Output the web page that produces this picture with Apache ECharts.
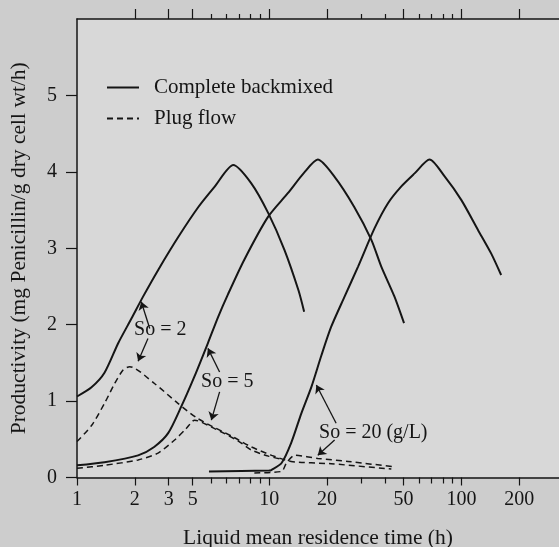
<!DOCTYPE html>
<html>
<head>
<meta charset="utf-8">
<script src="https://cdn.jsdelivr.net/npm/echarts@6/dist/echarts.min.js"></script>
<style>
html,body{margin:0;padding:0;background:#cdcdcd;}
#chart{width:559px;height:547px;}
</style>
</head>
<body>
<div id="chart"></div>
<script>
// curves, [residence time h, productivity]
var backmixedS2 = [[1,1.06],[1.19,1.18],[1.39,1.37],[1.64,1.76],[1.92,2.08],[2.21,2.37],[2.65,2.72],[3.37,3.15],[4.28,3.54],[5.18,3.80],[6.5,4.09],[8.07,3.85],[9.89,3.46],[12.0,2.98],[14.2,2.45],[15.2,2.17]];
var backmixedS5 = [[1,0.16],[1.39,0.20],[2.08,0.29],[2.52,0.40],[2.98,0.58],[3.49,0.93],[4.08,1.32],[4.8,1.76],[5.42,2.1],[6.11,2.4],[7.42,2.85],[9.86,3.41],[12.5,3.72],[15.2,3.99],[17.9,4.16],[21.8,3.94],[27.7,3.54],[34.0,3.11],[38.3,2.76],[44.8,2.37],[50.3,2.02]];
var backmixedS20 = [[4.86,0.08],[9.97,0.09],[10.3,0.10],[11.6,0.19],[13.0,0.45],[14.7,0.84],[16.6,1.19],[18.7,1.60],[21.0,1.97],[24.7,2.37],[29.0,2.76],[35.3,3.26],[41.5,3.59],[48.7,3.81],[57.1,3.98],[68.3,4.16],[81.8,3.94],[100,3.63],[122,3.24],[143,2.93],[161,2.65]];
var plugS2 = [[1,0.47],[1.19,0.68],[1.39,0.97],[1.57,1.23],[1.74,1.41],[1.88,1.45],[2.53,1.23],[3.35,0.97],[4.26,0.77],[6.61,0.52],[8.07,0.40],[10.3,0.29],[13.0,0.21],[21.0,0.18],[43.2,0.11]];
var plugS5 = [[1,0.12],[1.39,0.16],[2.08,0.23],[2.64,0.32],[3.22,0.49],[3.70,0.64],[4.09,0.75],[5.20,0.64],[6.88,0.48],[8.07,0.36],[9.9,0.28],[11.6,0.24]];
var plugS20 = [[8.37,0.06],[11.6,0.08],[12.3,0.19],[13.6,0.29],[17.9,0.25],[25.7,0.21],[44.9,0.14]];

var majorTicks = [1, 2, 3, 4, 10, 20, 50, 100, 200];
var minorTicks = [5, 6, 7, 8, 9, 30, 40, 60, 70, 80, 90];
var tickText = {1:'1', 2:'2', 3:'3', 4:'5', 10:'10', 20:'20', 50:'50', 100:'100', 200:'200'};
var yTicks = [0, 1, 2, 3, 4, 5];

var noteText = ['So = 2', 'So = 5', 'So = 20 (g/L)'];
var notePos = [[2.71, 1.93], [6.05, 1.25], [34.8, 0.59]];
var arrows = [
	[[2.39, 1.95], [2.16, 2.30]], [[2.34, 1.82], [2.08, 1.52]],
	[[5.52, 1.38], [4.80, 1.69]], [[5.52, 1.12], [5.00, 0.75]],
	[[22.3, 0.71], [17.6, 1.21]], [[21.9, 0.49], [17.9, 0.29]]
];

var font = 'Liberation Serif';
var ink = '#151515';

function curve(name, data, dashed){
	return {
		name: name,
		type: 'line',
		data: data,
		symbol: 'none',
		smooth: 0.25,
		lineStyle: {color: ink, width: dashed ? 1.5 : 2, type: dashed ? [6, 4] : 'solid'},
		itemStyle: {color: ink},
		emphasis: {disabled: true}
	};
}

function xAxisDef(pos, ticks, len, labels, showLine){
	return {
		type: 'log', logBase: 10, min: 1, max: 322, position: pos,
		axisLine: {show: showLine, onZero: false, lineStyle: {color: ink, width: 1.5}},
		axisTick: {show: true, inside: false, length: len, customValues: ticks, lineStyle: {color: ink, width: 1.2}},
		axisLabel: labels ? {show: true, customValues: ticks, margin: 12, fontFamily: font, fontSize: 20, color: ink,
			formatter: function(v){ return tickText[Math.round(v)] || ''; }} : {show: false},
		splitLine: {show: false}, minorTick: {show: false}, minorSplitLine: {show: false}
	};
}

var xAxes = [
	xAxisDef('bottom', majorTicks, 8, true, true),
	xAxisDef('bottom', minorTicks, 6, false, false),
	xAxisDef('top', [2, 3, 4, 10, 20, 50, 100, 200], 10, false, true),
	xAxisDef('top', minorTicks, 5, false, false)
];
xAxes[0].name = 'Liquid mean residence time (h)';
xAxes[0].nameLocation = 'middle';
xAxes[0].nameGap = 50;
xAxes[0].nameTextStyle = {fontFamily: font, fontSize: 21.5, color: ink};

var series = [
	curve('Complete backmixed', backmixedS2, false),
	curve('Complete backmixed', backmixedS5, false),
	curve('Complete backmixed', backmixedS20, false),
	curve('Plug flow', plugS2, true),
	curve('Plug flow', plugS5, true),
	curve('Plug flow', plugS20, true)
];

series[0].markPoint = {
	symbol: 'circle', symbolSize: 0, silent: true,
	label: {show: true, fontFamily: font, fontSize: 20, color: ink, position: 'inside',
		formatter: function(p){ return p.name; }},
	data: noteText.map(function(t, i){ return {name: t, coord: notePos[i]}; })
};
series[0].markLine = {
	silent: true, symbol: ['none', 'arrow'], symbolSize: 8,
	label: {show: false},
	lineStyle: {color: ink, width: 1.3, type: 'solid'},
	data: arrows.map(function(a){ return [{coord: a[0]}, {coord: a[1]}]; })
};

var chart = echarts.init(document.getElementById('chart'));
chart.setOption({
	animation: false,
	backgroundColor: '#cdcdcd',
	textStyle: {fontFamily: font},
	grid: {left: 77, right: 0, top: 19, bottom: 69.5, outerBoundsMode: 'none', containLabel: false,
		show: true, backgroundColor: '#d8d8d8', borderWidth: 0},
	legend: {
		data: ['Complete backmixed', 'Plug flow'],
		orient: 'vertical', left: 101, top: 72, itemWidth: 32, itemHeight: 12, itemGap: 10,
		itemStyle: {opacity: 0, borderWidth: 0},
		textStyle: {fontFamily: font, fontSize: 21, color: ink, padding: [0, 0, 0, 10]},
		selectedMode: false
	},
	xAxis: xAxes,
	yAxis: {
		type: 'value', min: 0, max: 6, interval: 1,
		name: 'Productivity (mg Penicillin/g dry cell wt/h)',
		nameLocation: 'middle', nameGap: 47,
		nameTextStyle: {fontFamily: font, fontSize: 21.5, color: ink},
		axisLine: {show: true, lineStyle: {color: ink, width: 1.5}},
		axisTick: {show: true, inside: false, length: 11, customValues: yTicks, lineStyle: {color: ink, width: 1.2}},
		axisLabel: {margin: 20, fontFamily: font, fontSize: 20, color: ink, customValues: yTicks},
		splitLine: {show: false}
	},
	series: series
});
</script>
</body>
</html>
